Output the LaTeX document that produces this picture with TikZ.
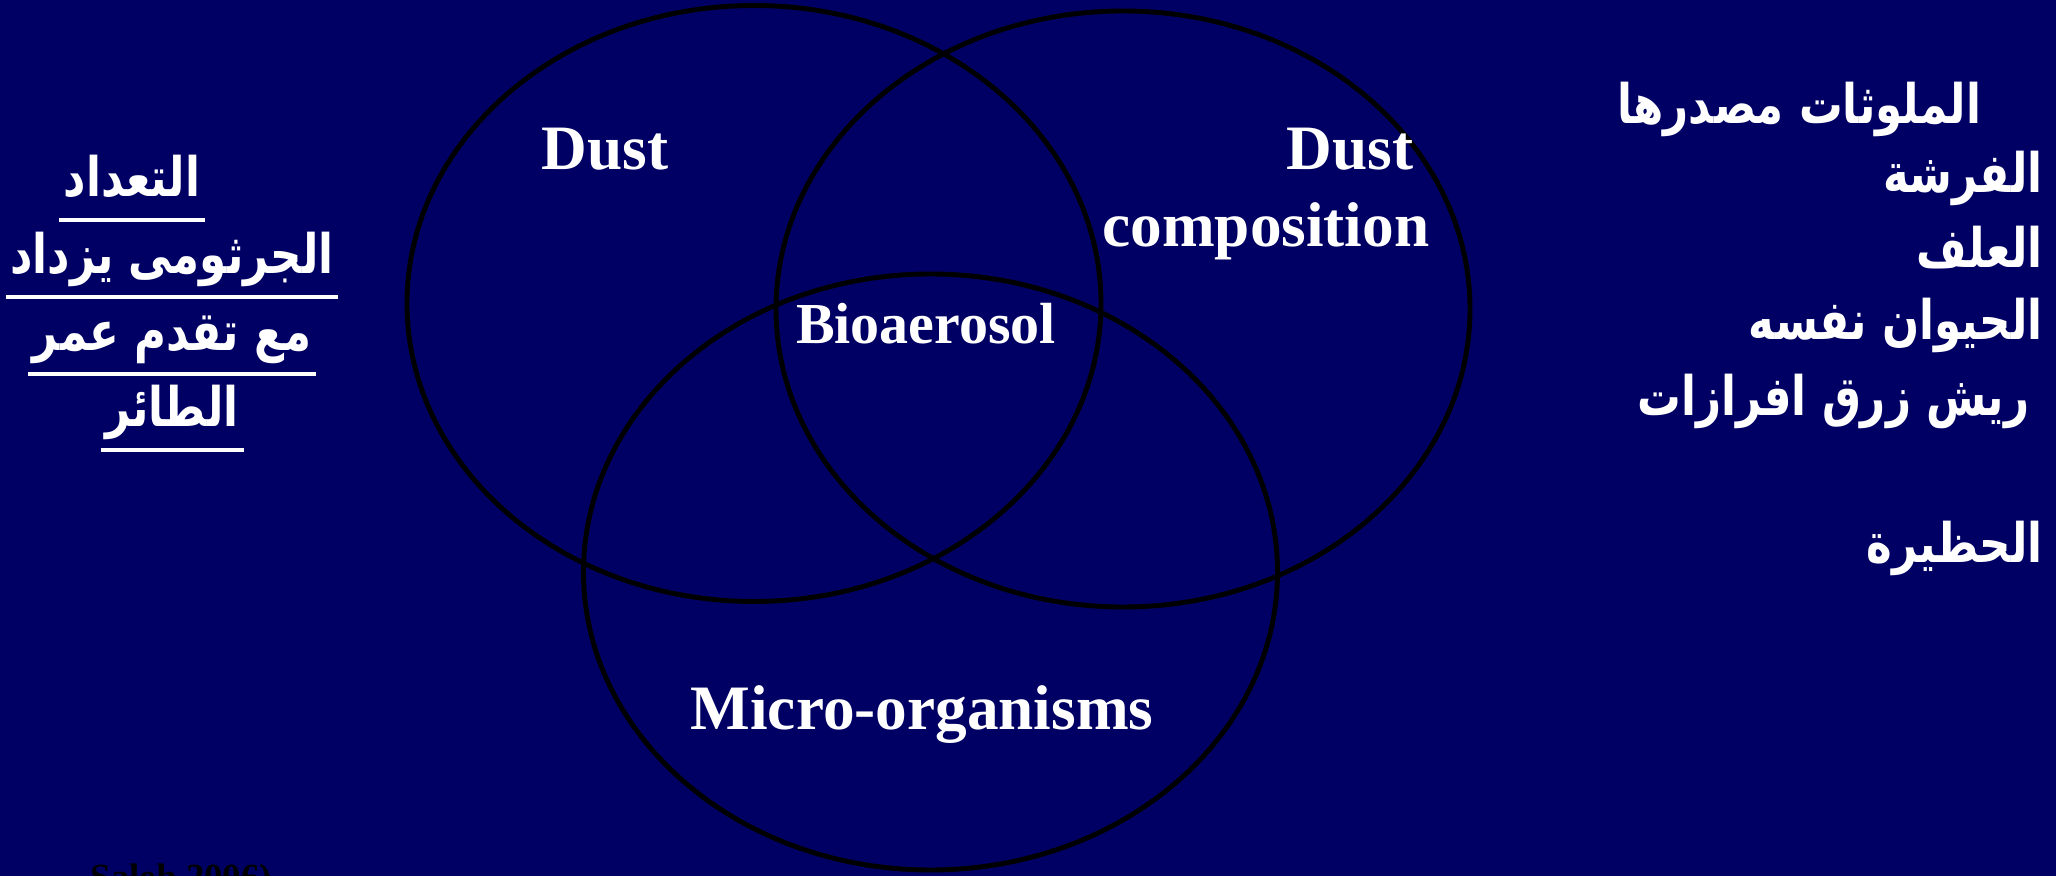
\documentclass[tikz,border=0pt]{standalone}
\usepackage{fontspec}
\setmainfont{Liberation Serif}
\newfontfamily\arabicfont[Script=Arabic,FakeStretch=0.8]{DejaVu Sans}
\TeXXeTstate=1
\usetikzlibrary{calc}
\definecolor{slidebg}{RGB}{0,0,100}

\begin{document}
\begin{tikzpicture}
[set/.style={black,line width=1.4pt},
lab/.style={text=white,font=\bfseries\fontsize{18}{21}\selectfont,inner sep=0pt},
srclab/.style={text=black,font=\bfseries\fontsize{10.5}{12}\selectfont,inner sep=0pt},
ar/.style={text=white,font=\arabicfont\bfseries\fontsize{15.5}{18}\selectfont,inner sep=0pt},
uline/.style={white,line width=1pt}]
%%%%%%%%%%

\def \rx {3.47}
\def \ry {2.98}
\def \ulgap {.23}

\fill[slidebg] (0,0) rectangle (20.56,-8.76);
\clip (0,0) rectangle (20.56,-8.76);

% the three sets
\draw[set] (7.54,-3.035) ellipse [x radius=\rx,y radius=\ry];
\draw[set] (11.23,-3.09) ellipse [x radius=\rx,y radius=\ry];
\draw[set] (9.305,-5.72) ellipse [x radius=\rx,y radius=\ry];

\node[lab,anchor=base] (dust) at (6.05,-1.70) {Dust};
\node[lab,anchor=base east] (dusttwo) at (14.14,-1.70) {Dust};
\node[lab,anchor=base east] (compo) at (14.30,-2.47) {composition};
\node[lab,font=\bfseries\fontsize{16.5}{20}\selectfont,anchor=base] (bio) at (9.26,-3.44) {Bioaerosol};
\node[lab,anchor=base] (micro) at (9.22,-7.30) {Micro-organisms};

% left note, underlined
\node[ar,anchor=base] (l1) at (1.32,-1.97) {\beginR التعداد\endR};
\node[ar,anchor=base] (l2) at (1.72,-2.74) {\beginR الجرثومى يزداد\endR};
\node[ar,anchor=base] (l3) at (1.72,-3.51) {\beginR مع تقدم عمر\endR};
\node[ar,anchor=base] (l4) at (1.72,-4.27) {\beginR الطائر\endR};
\foreach \l in {l1,l2,l3,l4}
    \draw[uline] ($(\l.base west)+(-.04,-\ulgap)$) -- ($(\l.base east)+(.04,-\ulgap)$);

% right list
\node[ar,anchor=base east] (r1) at (19.82,-1.24) {\beginR الملوثات مصدرها\endR};
\node[ar,anchor=base east] (r2) at (20.43,-1.93) {\beginR الفرشة\endR};
\node[ar,anchor=base east] (r3) at (20.43,-2.68) {\beginR العلف\endR};
\node[ar,anchor=base east] (r4) at (20.43,-3.40) {\beginR الحيوان نفسه\endR};
\node[ar,anchor=base east] (r5) at (20.30,-4.16) {\beginR ريش زرق افرازات\endR};
\node[ar,anchor=base east] (r6) at (20.43,-5.63) {\beginR الحظيرة\endR};

\node[srclab,anchor=base west] (src) at (0.90,-8.90) {Saleh 2006)};
\end{tikzpicture}
\end{document}
